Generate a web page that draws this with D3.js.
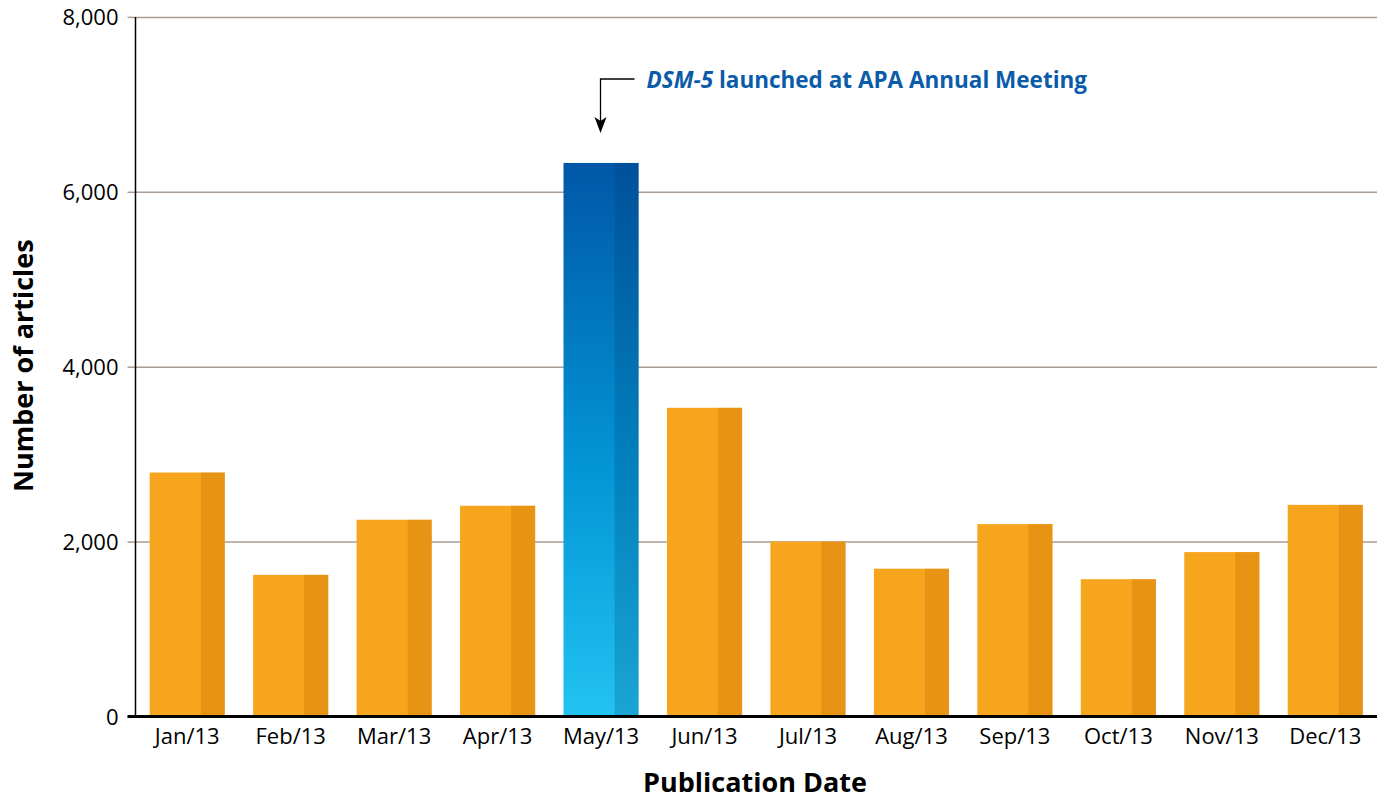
<!DOCTYPE html>
<html>
  <head>
  <title>DSM-5 articles</title>
  <style>
    body, html {
      margin: 0;
      padding: 0;
      background: #fff;
    }
    text {
      font-family: "Open Sans", "Noto Sans", sans-serif;
    }
  </style>
  </head>
  <body>

  <svg id="svg" width="1384" height="801"></svg>
  <script src="https://d3js.org/d3.v7.min.js"></script>
  <script>
      const months = ['Jan/13', 'Feb/13', 'Mar/13', 'Apr/13', 'May/13', 'Jun/13',
                      'Jul/13', 'Aug/13', 'Sep/13', 'Oct/13', 'Nov/13', 'Dec/13']
      const articles = [2790, 1620, 2250, 2410, 6330, 3530, 2000, 1690, 2200, 1570, 1880, 2420]
      const yTicks = [0, 2000, 4000, 6000, 8000]
      const highlight = 'May/13'
      const note = 'launched at APA Annual Meeting'

      const data = months.map((m, i) => ({ month: m, value: articles[i] }))

      const plotLeft = 135.5
      const plotRight = 1377
      const plotTop = 16.9
      const plotBottom = 716.5

      const svg = d3.select('#svg')

      const x = d3.scaleBand()
          .domain(months)
          .range([plotLeft, plotRight])
          .paddingInner(0.274)
          .paddingOuter(0.137)

      const y = d3.scaleLinear()
          .domain([0, 8000])
          .range([plotBottom, plotTop])

      // gradient for the highlighted bar
      const defs = svg.append('defs')
      const grad = defs.append('linearGradient')
          .attr('id', 'blue')
          .attr('x1', 0).attr('y1', 0).attr('x2', 0).attr('y2', 1)
      grad.append('stop').attr('offset', '0%').attr('stop-color', '#0057a8')
      grad.append('stop').attr('offset', '55%').attr('stop-color', '#0395d6')
      grad.append('stop').attr('offset', '100%').attr('stop-color', '#22c3f1')

      // gridlines + y axis
      const yAxis = svg.append('g')
          .attr('transform', `translate(${plotLeft},0)`)
          .call(d3.axisLeft(y)
              .tickValues(yTicks)
              .tickSize(8)
              .tickFormat(d3.format(',')))
      yAxis.select('.domain').remove()
      yAxis.attr('font-family', null)
      yAxis.selectAll('.tick line')
          .attr('stroke', '#a99d95')
          .attr('stroke-width', 1.5)
      yAxis.selectAll('.tick')
          .filter(d => d > 0)
          .append('line')
          .attr('x1', 0)
          .attr('x2', plotRight - plotLeft)
          .attr('stroke', '#a99d95')
          .attr('stroke-width', 1.5)
      yAxis.selectAll('.tick text')
          .attr('x', -17)
          .attr('dy', '0.35em')
          .attr('fill', '#000')
          .style('font-size', '22px')

      // bars
      const bars = svg.append('g')
          .selectAll('g')
          .data(data)
          .join('g')
      bars.append('rect')
          .attr('x', d => x(d.month))
          .attr('y', d => y(d.value))
          .attr('width', x.bandwidth())
          .attr('height', d => y(0) - y(d.value))
          .attr('fill', d => d.month === highlight ? 'url(#blue)' : '#f7a51c')
      bars.append('rect')
          .attr('x', d => x(d.month) + x.bandwidth() * 0.68)
          .attr('y', d => y(d.value))
          .attr('width', x.bandwidth() * 0.32)
          .attr('height', d => y(0) - y(d.value))
          .attr('fill', d => d.month === highlight ? '#003a6a' : '#d0780a')
          .attr('fill-opacity', d => d.month === highlight ? 0.22 : 0.4)

      // vertical axis line
      svg.append('line')
          .attr('x1', plotLeft).attr('x2', plotLeft)
          .attr('y1', plotTop).attr('y2', plotBottom)
          .attr('stroke', '#000')
          .attr('stroke-width', 1.5)

      // baseline
      svg.append('line')
          .attr('x1', plotLeft - 8).attr('x2', plotRight)
          .attr('y1', y(0)).attr('y2', y(0))
          .attr('stroke', '#000')
          .attr('stroke-width', 3)

      // x axis labels
      const xAxis = svg.append('g')
          .attr('transform', `translate(0,${plotBottom})`)
          .call(d3.axisBottom(x).tickSize(0))
      xAxis.select('.domain').remove()
      xAxis.attr('font-family', null)
      xAxis.selectAll('.tick text')
          .attr('y', 12)
          .attr('dy', '0.71em')
          .attr('fill', '#000')
          .style('font-size', '22px')

      // axis titles
      svg.append('text')
          .attr('x', 755)
          .attr('y', 792)
          .attr('text-anchor', 'middle')
          .style('font-size', '27px')
          .style('font-weight', 'bold')
          .text('Publication Date')

      svg.append('text')
          .attr('transform', `translate(33,${(plotTop + plotBottom) / 2 - 1}) rotate(-90)`)
          .attr('text-anchor', 'middle')
          .style('font-size', '27px')
          .style('font-weight', 'bold')
          .text('Number of articles')

      // annotation
      const ax = x(highlight) + 37
      svg.append('path')
          .attr('d', `M${ax + 34},79 H${ax} V125`)
          .attr('fill', 'none')
          .attr('stroke', '#000')
          .attr('stroke-width', 1.3)
      svg.append('path')
          .attr('d', `M${ax - 6},117 L${ax},133 L${ax + 6},117 L${ax},121 Z`)
          .attr('fill', '#000')

      const label = svg.append('text')
          .attr('x', ax + 46)
          .attr('y', 88)
          .attr('fill', '#0b5ca8')
          .style('font-size', '22.5px')
          .style('font-weight', 'bold')
      label.append('tspan')
          .style('font-style', 'italic')
          .text('DSM-5')
      label.append('tspan')
          .text(' ' + note)
  </script>
</body>
</html>
